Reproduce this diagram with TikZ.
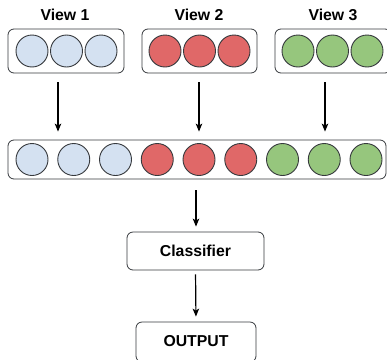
\documentclass[tikz,border=0pt]{standalone}
\usepackage{fontspec}
\setmainfont{Liberation Sans}
\usetikzlibrary{arrows.meta}

\definecolor{featblue}{RGB}{212,225,241}
\definecolor{featred}{RGB}{224,104,104}
\definecolor{featgreen}{RGB}{150,198,125}
\definecolor{edge}{RGB}{54,57,61}

\tikzset{
  feat/.style={circle, draw=edge, line width=0.9pt, minimum size=32pt, inner sep=0pt},
  fblue/.style={feat, fill=featblue},
  fred/.style={feat, fill=featred},
  fgreen/.style={feat, fill=featgreen},
  panel/.style={draw=edge, line width=0.8pt, rounded corners=6pt, fill=white, inner sep=0pt},
  caption/.style={font=\fontsize{15.8}{18}\selectfont\bfseries},
  flow/.style={-{Stealth[length=8pt,width=6.5pt,inset=2pt]}, line width=1.2pt, black},
}

\begin{document}
\begin{tikzpicture}[x=1pt, y=-1pt]
\useasboundingbox (0,0) rectangle (387,359);
\clip (0,0) rectangle (387,359);

% view captions
\node[caption] (t1) at (65,15) {View 1};
\node[caption] (t2) at (199,15) {View 2};
\node[caption] (t3) at (333,15) {View 3};

% view panels
\node[panel, minimum width=116pt, minimum height=44pt] (v1) at (66,51) {};
\node[panel, minimum width=115pt, minimum height=44pt] (v2) at (199.5,51) {};
\node[panel, minimum width=116pt, minimum height=44pt] (v3) at (333,51) {};

\node[fblue] (a1) at (32,51) {};
\node[fblue] (a2) at (66.5,51) {};
\node[fblue] (a3) at (101,51) {};
\node[fred] (b1) at (165,51) {};
\node[fred] (b2) at (199.5,51) {};
\node[fred] (b3) at (234,51) {};
\node[fgreen] (c1) at (298,51) {};
\node[fgreen] (c2) at (332.5,51) {};
\node[fgreen] (c3) at (367,51) {};

% concatenated feature vector
\node[panel, minimum width=378pt, minimum height=39pt] (cat) at (197,159.5) {};
\node[fblue] (k1) at (32,159.5) {};
\node[fblue] (k2) at (73.75,159.5) {};
\node[fblue] (k3) at (115.5,159.5) {};
\node[fred] (k4) at (157.25,159.5) {};
\node[fred] (k5) at (199,159.5) {};
\node[fred] (k6) at (240.75,159.5) {};
\node[fgreen] (k7) at (282.5,159.5) {};
\node[fgreen] (k8) at (324.25,159.5) {};
\node[fgreen] (k9) at (366,159.5) {};

% classifier and output
\node[panel, caption, minimum width=137pt, minimum height=38pt] (clf) at (195.5,251) {Classifier};
\node[panel, minimum width=120pt, minimum height=40pt] (out) at (196,342) {};
\node[caption] (outt) at (196,341) {OUTPUT};

% connectors
\draw[flow, shorten <=9pt, shorten >=8pt] ([xshift=-8pt]v1.south) -- ([xshift=-8pt]v1.south |- cat.north);
\draw[flow, shorten <=9pt, shorten >=8pt] ([xshift=-0.5pt]v2.south) -- ([xshift=-0.5pt]v2.south |- cat.north);
\draw[flow, shorten <=9pt, shorten >=8pt] ([xshift=-8pt]v3.south) -- ([xshift=-8pt]v3.south |- cat.north);
\draw[flow, shorten <=11pt, shorten >=5pt] ([xshift=-1pt]cat.south) -- ([xshift=-1pt]cat.south |- clf.north);
\draw[flow, shorten <=4pt, shorten >=5pt] (clf.south) -- (out.north);
\end{tikzpicture}
\end{document}
